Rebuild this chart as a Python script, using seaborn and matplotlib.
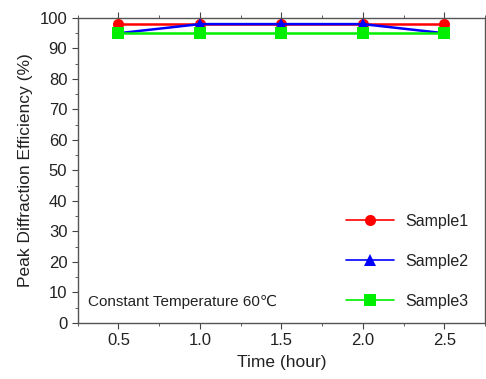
import pandas as pd
import numpy as np
import matplotlib
matplotlib.use('Agg')
import matplotlib.pyplot as plt
import seaborn as sns
from matplotlib.ticker import MultipleLocator

# data
time_h = [0.5, 1.0, 1.5, 2.0, 2.5]
sample1 = [98, 98, 98, 98, 98]
sample2 = [95, 98, 98, 98, 95]
sample3 = [95, 95, 95, 95, 95]
series_names = ['Sample1', 'Sample2', 'Sample3']

df = pd.DataFrame({
    'time': time_h * 3,
    'eff': sample1 + sample2 + sample3,
    'sample': [n for n in series_names for _ in time_h],
})

sns.set_style('ticks')
plt.rcParams['font.family'] = ['Liberation Sans', 'DejaVu Sans']
plt.rcParams['font.size'] = 12

colors = {'Sample1': '#ff0000', 'Sample2': '#0000ff', 'Sample3': '#00ee00'}
markers = {'Sample1': 'o', 'Sample2': '^', 'Sample3': 's'}

fig = plt.figure(figsize=(4.86, 3.79), dpi=100)
ax = fig.add_axes([0.160, 0.148, 0.838, 0.8045])

sns.lineplot(data=df, x='time', y='eff', hue='sample', style='sample',
             palette=colors, markers=markers, dashes=False,
             markersize=8, linewidth=1.8, markeredgewidth=0, ax=ax)

ax.set_xlim(0.25, 2.75)
ax.set_ylim(0, 100)
ax.xaxis.set_major_locator(MultipleLocator(0.5))
ax.xaxis.set_minor_locator(MultipleLocator(0.25))
ax.yaxis.set_major_locator(MultipleLocator(10))
ax.yaxis.set_minor_locator(MultipleLocator(5))
ax.tick_params(which='both', direction='out', color='#444444', labelsize=12,
               labelcolor='#222222')
ax.tick_params(which='major', length=4)
ax.tick_params(which='minor', length=2.5)
ax.tick_params(which='both', top=True, right=True)
for s in ax.spines.values():
    s.set_color('#555555')
    s.set_linewidth(1.0)

ax.set_xlabel('Time (hour)', fontsize=12.5, labelpad=5, color='#222222')
ax.set_ylabel('Peak Diffraction Efficiency (%)', fontsize=12.5, labelpad=5,
              color='#222222')

ax.text(0.025, 0.07, 'Constant Temperature 60\u2103', transform=ax.transAxes,
        fontsize=11, va='center', ha='left', color='#222222')

leg = ax.legend(loc='lower right', bbox_to_anchor=(0.995, 0.0), frameon=False,
                handlelength=3.0, labelspacing=1.55, handletextpad=0.75,
                fontsize=11.5)
for t in leg.get_texts():
    t.set_color('#222222')
for h in leg.get_lines():
    h.set_linewidth(1.2)

fig.savefig('out.png', dpi=100)
